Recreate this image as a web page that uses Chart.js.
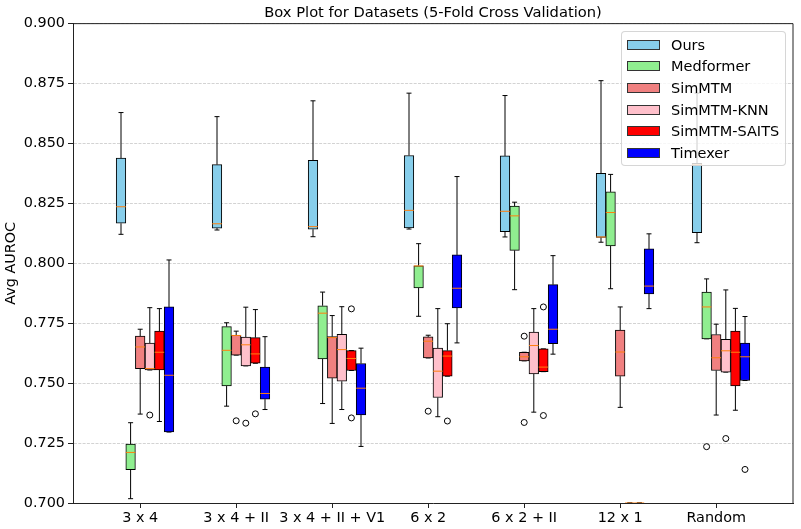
<!DOCTYPE html>
<html><head><meta charset="utf-8">
<script src="https://cdn.jsdelivr.net/npm/chart.js@4.4.1/dist/chart.umd.min.js"></script>
<style>
html,body{margin:0;padding:0;background:#fff;}
#wrap{position:relative;width:801px;height:529px;}
#legend{position:absolute;left:621px;top:31px;width:165px;height:135px;box-sizing:border-box;border:1px solid rgba(204,204,204,0.8);border-radius:4px;background:rgba(255,255,255,0.8);font-family:'DejaVu Sans';font-size:14.5px;color:#000;}
.item{position:absolute;left:5px;height:20px;display:flex;align-items:center;white-space:nowrap;}
.sw{width:31px;height:8px;border:1px solid #333;margin-right:11px;}
</style></head>
<body><div id="wrap"><canvas id="c" width="801" height="529"></canvas><div id="legend"></div></div>
<script>
// ---------------- data ----------------
const categories = ['3 x 4', '3 x 4 + II', '3 x 4 + II + V1', '6 x 2', '6 x 2 + II', '12 x 1', 'Random'];
const modelNames = ['Ours', 'Medformer', 'SimMTM', 'SimMTM-KNN', 'SimMTM-SAITS', 'Timexer'];
const yTicks = [0.700, 0.725, 0.750, 0.775, 0.800, 0.825, 0.850, 0.875, 0.900];

// per category: [lower whisker, Q1, median, Q3, upper whisker]
const oursStats = [
  [0.8121, 0.8167, 0.8236, 0.8439, 0.8629],
  [0.8139, 0.8147, 0.8165, 0.8412, 0.8612],
  [0.8111, 0.8142, 0.8153, 0.8430, 0.8678],
  [0.8143, 0.8148, 0.8221, 0.8450, 0.8710],
  [0.8110, 0.8132, 0.8217, 0.8448, 0.8700],
  [0.8088, 0.8108, 0.8110, 0.8375, 0.8762],
  [0.8086, 0.8128, 0.8411, 0.8417, 0.8710]
];
const medformerStats = [
  [0.7018, 0.7139, 0.7211, 0.7246, 0.7335],
  [0.7404, 0.7488, 0.7637, 0.7736, 0.7752],
  [0.7415, 0.7601, 0.7792, 0.7823, 0.7880],
  [0.7779, 0.7897, 0.7989, 0.7990, 0.8082],
  [0.7890, 0.8054, 0.8198, 0.8239, 0.8255],
  [0.7894, 0.8073, 0.8212, 0.8298, 0.8371],
  [0.7685, 0.7685, 0.7818, 0.7880, 0.7935]
];
const simmtmStats = [
  [0.7371, 0.7560, 0.7651, 0.7696, 0.7725],
  [0.7617, 0.7617, 0.7699, 0.7700, 0.7717],
  [0.7332, 0.7521, 0.7690, 0.7694, 0.7782],
  [0.7605, 0.7605, 0.7675, 0.7693, 0.7700],
  [0.7593, 0.7593, 0.7610, 0.7629, 0.7629],
  [0.7399, 0.7529, 0.7630, 0.7721, 0.7818],
  [0.7367, 0.7553, 0.7606, 0.7703, 0.7746]
];
const knnStats = [
  [0.7555, 0.7555, 0.7561, 0.7667, 0.7815],
  [0.7572, 0.7572, 0.7660, 0.7692, 0.7817],
  [0.7390, 0.7508, 0.7640, 0.7704, 0.7819],
  [0.7360, 0.7440, 0.7550, 0.7646, 0.7811],
  [0.7379, 0.7539, 0.7657, 0.7713, 0.7811],
  [0.7000, 0.7000, 0.7000, 0.7000, 0.7000],
  [0.7546, 0.7546, 0.7635, 0.7683, 0.7889]
];
const saitsStats = [
  [0.7340, 0.7555, 0.7629, 0.7717, 0.7811],
  [0.7583, 0.7583, 0.7622, 0.7690, 0.7807],
  [0.7553, 0.7553, 0.7603, 0.7636, 0.7636],
  [0.7529, 0.7529, 0.7613, 0.7636, 0.7748],
  [0.7548, 0.7548, 0.7567, 0.7643, 0.7643],
  [0.7000, 0.7000, 0.7000, 0.7000, 0.7000],
  [0.7387, 0.7489, 0.7629, 0.7717, 0.7812]
];
const timexerStats = [
  [0.7296, 0.7297, 0.7533, 0.7818, 0.8014],
  [0.7390, 0.7433, 0.7457, 0.7567, 0.7694],
  [0.7236, 0.7367, 0.7479, 0.7582, 0.7646],
  [0.7668, 0.7814, 0.7896, 0.8035, 0.8362],
  [0.7621, 0.7665, 0.7725, 0.7911, 0.8032],
  [0.7811, 0.7872, 0.7905, 0.8060, 0.8123],
  [0.7511, 0.7511, 0.7610, 0.7667, 0.7778]
];

// outliers: [category index, value]
const oursOutliers = [];
const medformerOutliers = [[6, 0.7235]];
const simmtmOutliers = [[1, 0.7343], [3, 0.7383], [4, 0.7696], [4, 0.7336]];
const knnOutliers = [[0, 0.7367], [1, 0.7333], [6, 0.7269]];
const saitsOutliers = [[1, 0.7372], [2, 0.7810], [2, 0.7355], [3, 0.7342], [4, 0.7818], [4, 0.7365]];
const timexerOutliers = [[6, 0.7140]];

// ---------------- styling / layout ----------------
const modelColors = ['#87ceeb', '#90ee90', '#f08080', '#ffc0cb', '#ff0000', '#0000ff'];
const statsByModel = [oursStats, medformerStats, simmtmStats, knnStats, saitsStats, timexerStats];
const outliersByModel = [oursOutliers, medformerOutliers, simmtmOutliers, knnOutliers, saitsOutliers, timexerOutliers];
const GROUP_OFFSET = 0.5, BOX_STEP = 0.1, TICK_OFFSET = 0.7, CAP_HALF = 0.026, MED_HALF = 0.05;
const X_MAX = 7.5;
const pos = (k, j) => k + GROUP_OFFSET + BOX_STEP * j;
const FONT = 'DejaVu Sans';

Chart.defaults.font.family = FONT;
Chart.defaults.color = '#000';

const datasets = [];
statsByModel.forEach((stats, j) => {
  datasets.push({
    type: 'bar', label: modelNames[j],
    data: stats.map((s, k) => ({ x: pos(k, j), y: [s[1], s[3]] })),
    backgroundColor: modelColors[j], borderColor: '#000', borderWidth: 1,
    borderSkipped: false, grouped: false, barThickness: 9.6, order: 2
  });
  const wh = [];
  stats.forEach((s, k) => {
    const x = pos(k, j);
    wh.push({ x, y: s[0] }, { x, y: s[1] }, { x, y: null });
    wh.push({ x, y: s[3] }, { x, y: s[4] }, { x, y: null });
    wh.push({ x: x - CAP_HALF, y: s[0] }, { x: x + CAP_HALF, y: s[0] }, { x, y: null });
    wh.push({ x: x - CAP_HALF, y: s[4] }, { x: x + CAP_HALF, y: s[4] }, { x, y: null });
  });
  datasets.push({
    type: 'line', label: modelNames[j] + ' whiskers', data: wh,
    borderColor: '#000', borderWidth: 1, pointRadius: 0, spanGaps: false,
    fill: false, tension: 0, borderCapStyle: 'butt', order: 3
  });
  const md = [];
  stats.forEach((s, k) => {
    const x = pos(k, j);
    md.push({ x: x - MED_HALF, y: s[2] }, { x: x + MED_HALF, y: s[2] }, { x, y: null });
  });
  datasets.push({
    type: 'line', label: modelNames[j] + ' median', data: md,
    borderColor: '#ff7f0e', borderWidth: 1, pointRadius: 0, spanGaps: false,
    fill: false, tension: 0, borderCapStyle: 'butt', order: 1
  });
  datasets.push({
    type: 'scatter', label: modelNames[j] + ' outliers',
    data: outliersByModel[j].map(o => ({ x: pos(o[0], j), y: o[1] })),
    pointRadius: 3, pointStyle: 'circle', borderColor: '#000', borderWidth: 1,
    backgroundColor: 'rgba(0,0,0,0)', order: 0
  });
});

const framePlugin = {
  id: 'frame',
  afterDraw(chart) {
    const { ctx, chartArea: a } = chart;
    ctx.save();
    ctx.strokeStyle = '#222';
    ctx.lineWidth = 1;
    ctx.beginPath();
    ctx.moveTo(a.left, a.top); ctx.lineTo(a.right, a.top); ctx.lineTo(a.right, a.bottom);
    ctx.stroke();
    ctx.restore();
  }
};

new Chart(document.getElementById('c'), {
  type: 'bar',
  data: { datasets },
  options: {
    responsive: false, animation: false, events: [],
    layout: { padding: { left: 0, right: 8, top: 0, bottom: 0 } },
    plugins: {
      legend: { display: false }, tooltip: { enabled: false },
      title: {
        display: true, fullSize: false,
        text: 'Box Plot for Datasets (5-Fold Cross Validation)',
        font: { family: FONT, size: 14.7, weight: 'normal' }, color: '#000',
        padding: { top: 4, bottom: 2 }
      }
    },
    scales: {
      x: {
        type: 'linear', min: 0, max: X_MAX, offset: false,
        afterBuildTicks: (axis) => { axis.ticks = categories.map((c, i) => ({ value: i + TICK_OFFSET })); },
        afterFit: (scale) => { scale.height = 26; },
        ticks: {
          autoSkip: false, maxRotation: 0, padding: 2, color: '#000',
          font: { family: FONT, size: 14.4 },
          callback: (v, i) => categories[i]
        },
        grid: { offset: false, drawOnChartArea: false, tickLength: 5, tickColor: '#222', color: 'rgba(0,0,0,0)' },
        border: { display: true, color: '#222', width: 1 }
      },
      y: {
        type: 'linear', min: 0.7, max: 0.9,
        afterBuildTicks: (axis) => { axis.ticks = yTicks.map(v => ({ value: v })); },
        afterFit: (scale) => { scale.width = 73; },
        ticks: {
          padding: 3, color: '#000', font: { family: FONT, size: 14.4 },
          callback: (v) => Number(v).toFixed(3)
        },
        grid: { color: 'rgba(176,176,176,0.7)', lineWidth: 0.8, tickLength: 5, tickColor: '#222', tickWidth: 1, tickBorderDash: [] },
        border: { display: true, color: '#222', width: 1, dash: [3, 1.3] },
        title: { display: true, text: 'Avg AUROC', color: '#000', font: { family: FONT, size: 14.4 }, padding: { top: 3, bottom: 0 } }
      }
    }
  },
  plugins: [framePlugin]
});

// HTML legend
const legend = document.getElementById('legend');
modelNames.forEach((name, j) => {
  const it = document.createElement('div');
  it.className = 'item';
  it.style.top = (2.5 + j * 21.7) + 'px';
  const sw = document.createElement('div');
  sw.className = 'sw';
  sw.style.background = modelColors[j];
  const tx = document.createElement('span');
  tx.textContent = name;
  it.appendChild(sw); it.appendChild(tx);
  legend.appendChild(it);
});
</script></body></html>
